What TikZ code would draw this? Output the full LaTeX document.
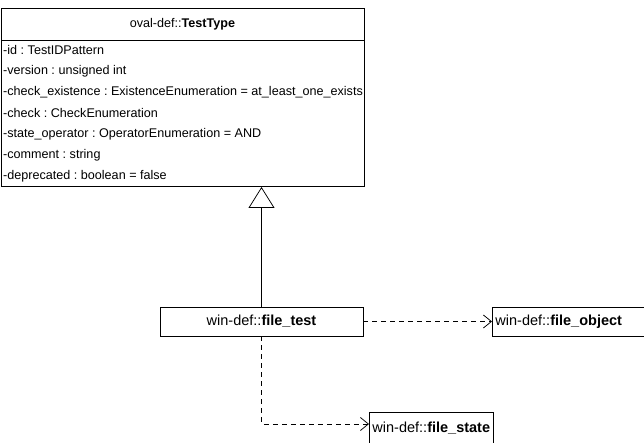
\documentclass[tikz,border=0pt]{standalone}
\usepackage{fontspec}
\setmainfont{Liberation Sans}
\frenchspacing
\usetikzlibrary{arrows.meta}
\begin{document}
\begin{tikzpicture}[x=1pt,y=-1pt,
  font=\fontsize{12.6}{15}\selectfont,
  box/.style={draw, line width=0.95pt, inner sep=0pt, fill=white},
  boxfont/.style={font=\fontsize{14.5}{16}\selectfont},
  attr/.style={anchor=west, inner sep=0pt},
  dep/.style={draw, line width=0.75pt, dash pattern=on 5pt off 4pt, -{Straight Barb[length=8pt,width=13pt,line width=0.75pt]}},
  inh/.style={draw, line width=0.75pt, -{Triangle[open,length=21pt,width=26pt,line width=0.75pt]}}]
\useasboundingbox (0,0) rectangle (644,443);
% class box
\node[box, anchor=north west, minimum width=363pt, minimum height=178pt] (tt) at (1,8) {};
\draw[line width=0.95pt] ([yshift=-32pt]tt.north west) -- ([yshift=-32pt]tt.north east);
\node (ttl) at (182.5,24) {oval-def::\textbf{TestType}};
\node[attr] (a1) at (3,50) {-id : TestIDPattern};
\node[attr] (a2) at (3,71) {-version : unsigned int};
\node[attr] (a3) at (3,92) {-check\_existence : ExistenceEnumeration = at\_least\_one\_exists};
\node[attr] (a4) at (3,113) {-check : CheckEnumeration};
\node[attr] (a5) at (3,134) {-state\_operator : OperatorEnumeration = AND};
\node[attr] (a6) at (3,155) {-comment : string};
\node[attr] (a7) at (3,176) {-deprecated : boolean = false};
% other classes
\node[box, boxfont, minimum width=203pt, minimum height=29pt] (ft) at (261.5,321.5) {win-def::\textbf{file\_test}};
\node[box, boxfont, anchor=west, minimum height=29pt, inner xsep=3pt, text width=160pt, align=left] (fo) at (492,321.5) {win-def::\textbf{file\_object}};
\node[box, boxfont, anchor=west, minimum height=32pt, inner xsep=3pt] (fs) at (369,428) {win-def::\textbf{file\_state}};
% connectors
\draw[inh] (ft.north) -- (ft.north |- tt.south);
\draw[dep] (ft.east) -- (fo.west);
\draw[dep] (ft.south) |- ([yshift=4pt]fs.west);
\end{tikzpicture}
\end{document}
